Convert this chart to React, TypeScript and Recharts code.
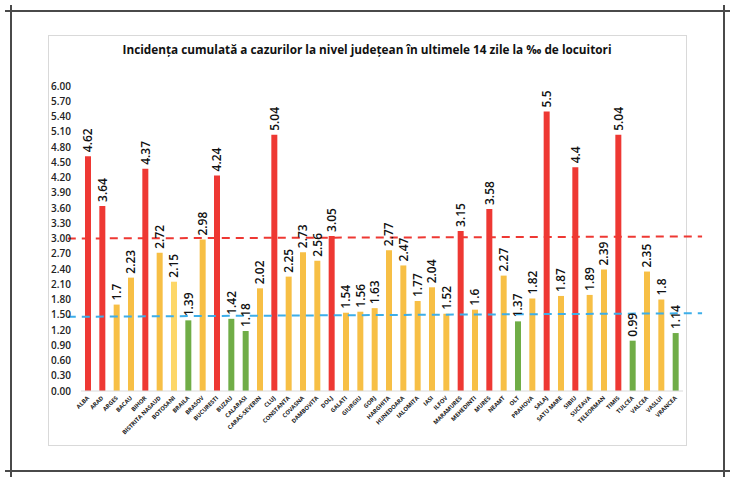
import React from "react";
import { BarChart, Bar, XAxis, YAxis, Cell, LabelList, ReferenceLine } from "recharts";

const counties = [
  "ALBA", "ARAD", "ARGES", "BACAU", "BIHOR", "BISTRITA NASAUD", "BOTOSANI", "BRAILA", "BRASOV", "BUCURESTI",
  "BUZAU", "CALARASI", "CARAS-SEVERIN", "CLUJ", "CONSTANTA", "COVASNA", "DAMBOVITA", "DOLJ", "GALATI", "GIURGIU",
  "GORJ", "HARGHITA", "HUNEDOARA", "IALOMITA", "IASI", "ILFOV", "MARAMURES", "MEHEDINTI", "MURES", "NEAMT",
  "OLT", "PRAHOVA", "SALAJ", "SATU MARE", "SIBIU", "SUCEAVA", "TELEORMAN", "TIMIS", "TULCEA", "VALCEA",
  "VASLUI", "VRANCEA",
];

const values = [
  4.62, 3.64, 1.7, 2.23, 4.37, 2.72, 2.15, 1.39, 2.98, 4.24,
  1.42, 1.18, 2.02, 5.04, 2.25, 2.73, 2.56, 3.05, 1.54, 1.56,
  1.63, 2.77, 2.47, 1.77, 2.04, 1.52, 3.15, 1.6, 3.58, 2.27,
  1.37, 1.82, 5.5, 1.87, 4.4, 1.89, 2.39, 5.04, 0.99, 2.35,
  1.8, 1.14,
];

const levels = [
  "r", "r", "y", "y", "r", "y", "l", "g", "y", "r",
  "g", "g", "y", "r", "y", "y", "y", "r", "y", "y",
  "y", "y", "y", "y", "y", "y", "r", "y", "r", "y",
  "g", "y", "r", "y", "r", "y", "y", "r", "g", "y",
  "y", "g",
];

const yTicks = [0, 0.3, 0.6, 0.9, 1.2, 1.5, 1.8, 2.1, 2.4, 2.7, 3.0, 3.3, 3.6, 3.9, 4.2, 4.5, 4.8, 5.1, 5.4, 5.7, 6.0];

// threshold lines (value at left end, value at right end)
const redThreshold = [3.0, 3.04];
const blueThreshold = [1.46, 1.53];

const title = "Incidența cumulată a cazurilor la nivel județean în ultimele 14 zile la ‰ de locuitori";

const levelColors: Record<string, string> = {
  r: "#EE3833",
  y: "#F7BF45",
  l: "#FDD768",
  g: "#70AD47",
};

const data = counties.map((c, i) => ({ name: c, value: values[i], level: levels[i] }));

const FONT = "'Open Sans', 'Liberation Sans', sans-serif";

const XTick = (props: any) => {
  const { x, y, payload } = props;
  return (
    <g transform={`translate(${x},${y})`}>
      <text
        x={0}
        y={0}
        dy={2}
        textAnchor="end"
        transform="rotate(-45)"
        fontSize={5.8}
        fontWeight={700}
        fontFamily={FONT}
        fill="#222"
      >
        {payload.value}
      </text>
    </g>
  );
};

const ValueLabel = (props: any) => {
  const { x, y, width, value } = props;
  const cx = x + width / 2;
  const ty = y - 4;
  return (
    <text
      x={cx}
      y={ty}
      transform={`rotate(-90, ${cx}, ${ty})`}
      textAnchor="start"
      dominantBaseline="central"
      fontSize={12}
      fontWeight={600}
      fontFamily={FONT}
      fill="#111"
    >
      {String(value)}
    </text>
  );
};

const lineStyle = (color: string, left: number, top: number, width: number, height: number): React.CSSProperties => ({
  position: "absolute",
  left,
  top,
  width,
  height,
  background: color,
});

export default function App() {
  return (
    <div style={{ position: "absolute", left: 0, top: 0, width: 735, height: 482, background: "#fff" }}>
      {/* outer frame */}
      <div style={lineStyle("#4a4a4a", 5, 10, 725, 2)} />
      <div style={lineStyle("#4a4a4a", 5, 470, 725, 2)} />
      <div style={lineStyle("#4a4a4a", 10, 5, 2, 472)} />
      <div style={lineStyle("#4a4a4a", 723, 5, 2, 472)} />
      {/* inner chart box */}
      <div
        style={{
          position: "absolute",
          left: 48,
          top: 35,
          width: 639,
          height: 411,
          border: "1px solid #d9d9d9",
          boxSizing: "border-box",
        }}
      />
      <svg width={735} height={482} style={{ position: "absolute", left: 0, top: 0 }}>
        <text
          x={367}
          y={54}
          textAnchor="middle"
          fontSize={13}
          fontWeight={700}
          fontFamily={FONT}
          fill="#111"
          textLength={489}
          lengthAdjust="spacingAndGlyphs"
        >
          {title}
        </text>
      </svg>
      <div style={{ position: "absolute", left: 0, top: 0 }}>
        <BarChart
          width={735}
          height={482}
          data={data}
          margin={{ top: 86, right: 52, bottom: 31, left: 50 }}
          barCategoryGap={0}
        >
          <XAxis
            xAxisId="c"
            dataKey="name"
            interval={0}
            height={60}
            tickLine={false}
            tickSize={0}
            tickMargin={6}
            axisLine={{ stroke: "#d9d9d9", strokeWidth: 1 }}
            tick={<XTick />}
          />
          <XAxis xAxisId="n" type="number" domain={[0, 42]} hide />
          <YAxis
            width={31}
            domain={[0, 6]}
            ticks={yTicks}
            interval={0}
            tickFormatter={(v: number) => v.toFixed(2)}
            axisLine={false}
            tickLine={false}
            tickSize={0}
            tickMargin={10}
            tick={{ fontSize: 10, fontWeight: 600, fontFamily: FONT, fill: "#222" }}
          />
          <Bar xAxisId="c" dataKey="value" barSize={6} isAnimationActive={false}>
            {data.map((d, i) => (
              <Cell key={i} fill={levelColors[d.level]} />
            ))}
            <LabelList dataKey="value" content={<ValueLabel />} />
          </Bar>
          <ReferenceLine
            xAxisId="n"
            segment={[
              { x: -0.9, y: redThreshold[0] },
              { x: 42.3, y: redThreshold[1] },
            ]}
            stroke="#EE3833"
            strokeWidth={2}
            strokeDasharray="8 6"
            ifOverflow="visible"
          />
          <ReferenceLine
            xAxisId="n"
            segment={[
              { x: -0.9, y: blueThreshold[0] },
              { x: 42.3, y: blueThreshold[1] },
            ]}
            stroke="#3DAEE9"
            strokeWidth={2}
            strokeDasharray="8 6"
            ifOverflow="visible"
          />
        </BarChart>
      </div>
    </div>
  );
}
